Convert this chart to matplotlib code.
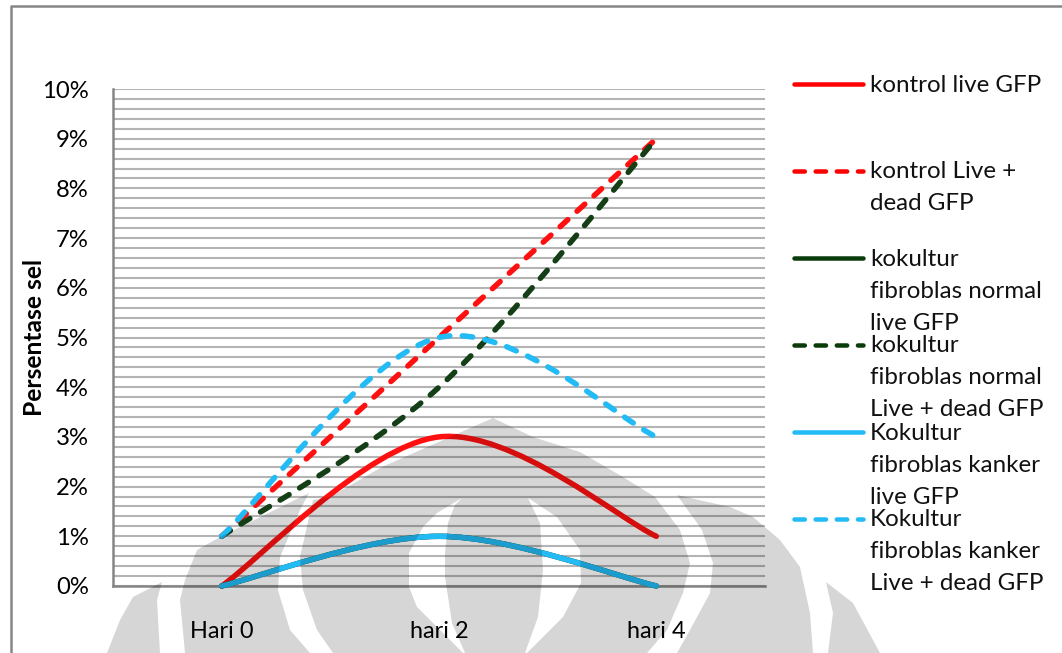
import matplotlib
matplotlib.use("Agg")
import matplotlib.pyplot as plt
from matplotlib.path import Path
from matplotlib.patches import PathPatch
from matplotlib.lines import Line2D
from matplotlib.transforms import Affine2D
from matplotlib.ticker import MultipleLocator, FuncFormatter

# ---------- data ----------
categories = ["Hari 0", "hari 2", "hari 4"]
kontrol_live = [0, 3, 1]
kontrol_total = [1, 5, 9]
normal_live = [0, 1, 0]
normal_total = [1, 4, 9]
kanker_live = [0, 1, 0]
kanker_total = [1, 5, 3]
labels = [
    "kontrol live GFP",
    "kontrol Live +\ndead GFP",
    "kokultur\nfibroblas normal\nlive GFP",
    "kokultur\nfibroblas normal\nLive + dead GFP",
    "Kokultur\nfibroblas kanker\nlive GFP",
    "Kokultur\nfibroblas kanker\nLive + dead GFP",
]
series = [kontrol_live, kontrol_total, normal_live, normal_total, kanker_live, kanker_total]

# ---------- styles / layout ----------
plt.rcParams["font.family"] = ["Lato", "DejaVu Sans"]
W, H = 1062, 653
RED, GREEN, BLUE = "#FF1010", "#143F16", "#22BBF5"
plot_colors = [RED, RED, GREEN, GREEN, BLUE, BLUE]
leg_colors = ["#FF0000", "#FF0000", "#0A3C0A", "#0A3C0A", "#22BBF5", "#22BBF5"]
dashed = [False, True, False, True, False, True]
LW = 5.5 * 72 / 100
LEG_LW = 4.5 * 72 / 100
DASH = (0, (1.9, 2.27))
LEG_DASH = (0, (2.3, 2.4))

fig = plt.figure(figsize=(W / 100, H / 100), dpi=100, facecolor="white")
px = Affine2D().scale(1, -1).translate(0, H)  # reference pixel coordinates

L, R, T, B = 113, 765, 89, 586
ax = fig.add_axes([L / W, 1 - B / H, (R - L) / W, (B - T) / H])
ax.set_xlim(-0.5, 2.5)
ax.set_ylim(0, 10)
ax.yaxis.set_major_locator(MultipleLocator(1))
ax.yaxis.set_minor_locator(MultipleLocator(0.2))
ax.yaxis.set_major_formatter(FuncFormatter(lambda v, _: f"{v:.0f}%"))
ax.set_xticks(range(len(categories)), categories)
ax.tick_params(axis="y", which="both", length=0, pad=17.5, labelsize=17.2)
ax.tick_params(axis="x", length=0, pad=25, labelsize=16.9)
ax.grid(True, which="both", axis="y", color="#B4B4B4", lw=1.5, zorder=1)
ax.set_axisbelow(True)
for s in ("top", "right"):
    ax.spines[s].set_visible(False)
for s in ("left", "bottom"):
    ax.spines[s].set_color("#868686")
    ax.spines[s].set_linewidth(1.8)
ax.set_ylabel("Persentase sel", fontsize=17.7, fontweight="bold", labelpad=0)
ax.yaxis.set_label_coords((46 - L) / (R - L), (B - 337) / (B - T))


def smooth_path(values):
    """Excel-style smoothed line: cubic Bezier segments through the values."""
    n = len(values)
    verts = [(0, values[0])]
    codes = [Path.MOVETO]
    for i in range(n - 1):
        left = max(i - 1, 0)
        right = min(i + 2, n - 1)
        verts += [
            (i + (i + 1 - left) / 6, values[i] + (values[i + 1] - values[left]) / 6),
            (i + 1 - (right - i) / 6, values[i + 1] - (values[right] - values[i]) / 6),
            (i + 1, values[i + 1]),
        ]
        codes += [Path.CURVE4] * 3
    return Path(verts, codes)


for i, (vals, col, d) in enumerate(zip(series, plot_colors, dashed)):
    ax.add_patch(PathPatch(smooth_path(vals), fill=False, edgecolor=col, lw=LW,
                           linestyle=DASH if d else "-", capstyle="round",
                           joinstyle="round", zorder=3 + i, clip_on=False))

# legend, placed as in the reference
leg_y = [84, 171, 258, 345, 432, 519]
LINE_H = 32
for y, lab, col, d in zip(leg_y, labels, leg_colors, dashed):
    fig.add_artist(Line2D([794, 863], [y, y], transform=px, color=col, lw=LEG_LW,
                          linestyle=LEG_DASH if d else "-", dash_capstyle="round",
                          solid_capstyle="round"))
    for k, line in enumerate(lab.split("\n")):
        fig.text(870, y + k * LINE_H + 1, line, transform=px, fontsize=17.4,
                 va="center", ha="left", color="#111111")

# outer chart frame
fig.add_artist(Line2D([10.5, 10.5, W], [H, 6, 6], transform=px, color="#868686", lw=1.8))

# watermark (multiplied over everything)
dome = [(493, 418), (533, 437), (580, 452), (623, 477), (655, 497), (680, 530), (690, 563),
        (683, 593), (667, 630), (647, 653), (333, 653), (317, 630), (303, 590), (300, 557),
        (313, 500), (330, 497), (382, 467), (450, 437)]
lobe_l = [(462, 498), (455, 505), (448, 523), (445, 553), (445, 577), (452, 623), (465, 653),
          (463, 653), (440, 630), (417, 607), (409, 587), (409, 553), (423, 527), (437, 513)]
lobe_r = [(528, 498), (557, 517), (580, 550), (581, 583), (563, 617), (527, 653), (525, 653),
          (538, 617), (543, 570), (540, 523)]
petals = [
    [(309, 493), (220, 537), (197, 550), (185, 580), (180, 600), (185, 653), (310, 653),
     (290, 630), (278, 590), (280, 557), (300, 510)],
    [(162, 582), (133, 597), (120, 620), (107, 653), (160, 653), (157, 600)],
    [(677, 495), (730, 507), (753, 517), (780, 540), (800, 567), (810, 613), (813, 653),
     (677, 653), (690, 630), (710, 593), (713, 563), (702, 530)],
    [(826, 582), (853, 603), (873, 640), (880, 653), (828, 653), (833, 613)],
]


def poly(pts):
    return Path(pts + [pts[0]], closed=True)


def area(pts):
    return sum(a[0] * b[1] - b[0] * a[1] for a, b in zip(pts, pts[1:] + pts[:1]))


def oriented(pts, positive):
    return pts if (area(pts) > 0) == positive else pts[::-1]


shapes = [Path.make_compound_path(poly(oriented(dome, True)),
                                  poly(oriented(lobe_l, False)),
                                  poly(oriented(lobe_r, False)))]
shapes += [poly(p) for p in petals]
for shape in shapes:
    fig.add_artist(PathPatch(shape, transform=px, facecolor="black", alpha=0.16,
                             edgecolor="none", zorder=20))

fig.savefig("out.png", dpi=100)
